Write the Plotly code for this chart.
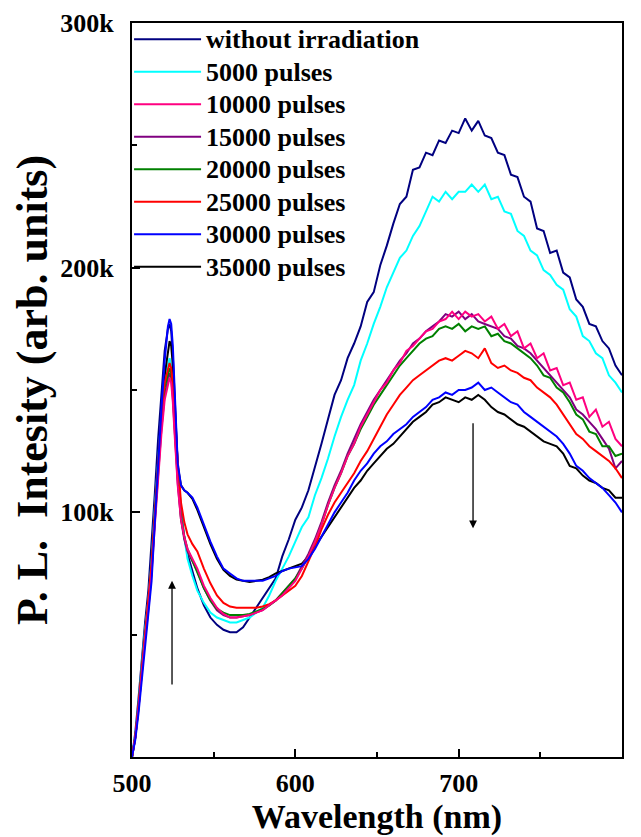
import plotly.graph_objects as go

wavelength = [500, 502, 504, 506, 508, 510, 512, 514, 516, 518, 520, 522, 523, 524, 525, 526, 527, 528,
              530, 532, 534, 537, 540, 544, 548, 552, 556, 560, 564, 568, 572, 576, 580, 584, 588, 592, 596, 600,
              604, 608, 612, 616, 620, 624, 628, 632, 636, 640, 644, 648, 652, 656, 660, 664, 668, 672, 676, 680,
              684, 688, 692, 696, 700, 704, 708, 712, 716, 720, 724, 728, 732, 736, 740, 744, 748, 752, 756, 760,
              764, 768, 772, 776, 780, 784, 788, 792, 796, 800]

# intensities in units of 1000 (k)
without_irr = [0, 10, 24, 40, 55, 68, 86, 108, 130, 150, 166, 175, 177, 174, 164, 149, 133, 119,
               101, 90, 83, 76, 69, 62, 57, 54, 52, 51, 51, 53, 57, 61, 65, 69, 73, 82, 89, 97,
               102, 109, 118, 128, 138, 148, 154, 163, 169, 176, 186, 190, 201, 209, 218, 226, 229, 240, 241, 247,
               246, 252, 251, 256, 255, 261, 256, 260, 254, 253, 247, 246, 238, 237, 229, 227, 216, 215, 206, 207,
               198, 196, 187, 184, 177, 176, 170, 167, 160, 156]
p5000 = [0, 9, 22, 38, 52, 64, 80, 102, 122, 140, 154, 161, 163, 160, 152, 140, 127, 116,
         99, 89, 81, 74, 68, 63, 59, 57, 56, 55, 55, 56, 57, 59, 61, 66, 72, 77, 82, 88,
         94, 98, 107, 114, 122, 131, 139, 146, 152, 162, 169, 177, 184, 192, 198, 204, 207, 213, 217, 223,
         229, 227, 231, 228, 231, 231, 234, 231, 234, 228, 229, 223, 222, 215, 213, 207, 205, 199, 197, 193,
         191, 183, 180, 172, 170, 165, 163, 156, 153, 149]
p10000 = [0, 8, 20, 35, 48, 60, 75, 95, 115, 132, 146, 153, 155, 153, 145, 133, 121, 111,
          97, 90, 85, 81, 77, 70, 65, 61, 58.5, 57, 57, 57.5, 58, 59, 60, 62, 64, 66, 69, 72,
          77, 82, 88, 95, 103, 110, 116, 123, 128, 135, 140, 145, 150, 153, 158, 161, 166, 168, 171, 174,
          175, 178, 179, 182, 179, 182, 180, 181, 178, 180, 175, 177, 172, 174, 167, 169, 163, 165, 158, 159,
          152, 153, 146, 147, 139, 142, 135, 137, 130, 127]
p15000 = [0, 8, 21, 36, 49, 61, 77, 97, 117, 134, 148, 155, 157, 155, 147, 135, 122, 112,
          97, 89, 84, 80, 76, 69, 64, 60, 58, 57, 57, 57.5, 58, 59, 60, 62, 64, 67, 70, 73,
          78, 83, 89, 96, 104, 111, 117, 124, 130, 136, 141, 146, 150, 154, 158, 162, 165, 169, 171, 174,
          176, 178, 181, 180, 182, 179, 181, 178, 177, 176, 175, 172, 171, 168, 167, 165, 162, 159, 156, 153,
          150, 147, 142, 140, 137, 134, 130, 126, 118, 121]
p20000 = [0, 8, 21, 36, 50, 62, 78, 99, 119, 137, 151, 157, 159, 157, 149, 137, 124, 114,
          98, 90, 85, 80, 75, 69, 64, 60.5, 59, 58, 58, 58, 58.5, 59.5, 60.5, 62, 64, 67, 70, 73,
          77, 82, 88, 95, 103, 110, 116, 123, 128, 134, 139, 144, 148, 152, 156, 160, 163, 166, 169, 171,
          172, 175, 176, 175, 177, 174, 176, 175, 176, 172, 173, 170, 169, 167, 165, 163, 160, 156, 155, 151,
          149, 145, 140, 138, 133, 132, 127, 127, 123, 124]
p25000 = [0, 8, 21, 36, 50, 63, 79, 100, 120, 139, 153, 159, 161, 159, 152, 141, 130, 121,
          104, 96, 91, 87, 84, 77, 71, 66, 63, 61.5, 61, 61, 61, 61, 61.5, 62.5, 64, 66, 68, 70,
          74, 80, 86, 93, 99, 104, 108, 112, 116, 121, 125, 130, 135, 140, 144, 148, 151, 154, 156, 158,
          160, 162, 163, 162, 164, 166, 165, 163, 167, 161, 159, 160, 158, 157, 155, 154, 151, 149, 147, 144,
          140, 136, 132, 130, 127, 125, 123, 121, 118, 114]
p30000 = [0, 7, 18, 32, 46, 58, 72, 96, 120, 142, 162, 176, 179, 177, 168, 152, 135, 120,
          111, 109, 108, 106, 102, 95, 88, 82, 77, 75, 73, 72, 72, 72, 72, 73, 74, 76, 77, 77.5,
          78, 81, 85, 90, 95, 100, 104, 108, 113, 117, 120, 124, 127, 129, 132, 134, 136, 139, 141, 143,
          146, 147, 149, 148, 150, 150, 151, 153, 150, 151, 149, 147, 145, 144, 141, 139, 137, 135, 133, 131,
          128, 124, 119, 117, 114, 112, 110, 107, 104, 100]
p35000 = [0, 8, 20, 35, 49, 61, 76, 98, 120, 140, 156, 167, 170, 168, 160, 146, 132, 119,
          111, 109, 108, 105.5, 101, 94, 87, 81, 76.5, 74, 72.5, 72, 71.5, 72, 72.5, 73.5, 75, 76, 77, 78,
          79, 82, 86, 90, 94, 98, 102, 106, 110, 113, 117, 120, 123, 126, 128, 131, 134, 137, 139, 141,
          144, 145, 147, 146, 145, 147, 146, 148, 146, 143, 141, 140, 138, 136, 135, 133, 131, 129, 128, 127,
          124, 119, 118, 115, 113, 112, 110, 109, 106, 106]

series_names = ["without irradiation", "5000 pulses", "10000 pulses", "15000 pulses",
                "20000 pulses", "25000 pulses", "30000 pulses", "35000 pulses"]
series_values = [without_irr, p5000, p10000, p15000, p20000, p25000, p30000, p35000]
series_colors = ["#000080", "#00FFFF", "#FF0080", "#800080", "#008000", "#FF0000", "#0000FF", "#000000"]
draw_order = [0, 1, 7, 3, 4, 5, 2, 6]

y_tickvals = [100000, 200000, 300000]
y_ticktext = ["100k", "200k", "300k"]
x_tickvals = [500, 600, 700, 800]

FONT = "Liberation Serif, Times New Roman, serif"

fig = go.Figure()
for i in draw_order:
    fig.add_trace(go.Scatter(
        x=wavelength, y=[v * 1000 for v in series_values[i]],
        mode="lines",
        name="<span style='font-size:26px'>" + series_names[i] + "</span>",
        legendrank=i + 1,
        line=dict(color=series_colors[i], width=2),
    ))

# arrows
fig.add_annotation(x=524.5, y=72000, ax=524.5, ay=29000, xref="x", yref="y", axref="x", ayref="y",
                   text="", showarrow=True, arrowhead=2, arrowsize=1.2, arrowwidth=1.3, arrowcolor="black",
                   standoff=0, startstandoff=0)
fig.add_annotation(x=708.8, y=93500, ax=708.8, ay=137000, xref="x", yref="y", axref="x", ayref="y",
                   text="", showarrow=True, arrowhead=2, arrowsize=1.2, arrowwidth=1.3, arrowcolor="black",
                   standoff=0, startstandoff=0)

fig.update_layout(
    template="none",
    width=633, height=829,
    margin=dict(l=124, r=19, t=15, b=80, autoexpand=False),
    paper_bgcolor="white", plot_bgcolor="white",
    font=dict(family=FONT, color="black", size=24, weight="bold"),
    showlegend=True,
    legend=dict(x=-0.006, y=1.0068, xanchor="left", yanchor="top", bgcolor="rgba(0,0,0,0)",
                font=dict(family=FONT, size=22.7, color="black", weight="bold"),
                itemwidth=67, tracegroupgap=0, traceorder="normal"),
)
fig.update_xaxes(
    range=[500, 800], tickmode="array", tickvals=x_tickvals, automargin=False,
    ticks="inside", ticklen=8, tickwidth=2, tickcolor="black", ticklabelstandoff=2,
    minor=dict(tickvals=[550, 650, 750], ticks="inside", ticklen=5, tickwidth=2, tickcolor="black"),
    showline=True, linecolor="black", linewidth=2, mirror=True, showgrid=False, zeroline=False,
    tickfont=dict(family=FONT, size=26, color="black", weight="bold"),
    title=dict(text="Wavelength (nm)", font=dict(family=FONT, size=34, color="black", weight="bold"), standoff=6),
)
fig.update_yaxes(
    range=[0, 300000], tickmode="array", tickvals=y_tickvals, ticktext=y_ticktext, automargin=False,
    ticks="inside", ticklen=8, tickwidth=2, tickcolor="black", ticklabelstandoff=11,
    minor=dict(tickvals=[50000, 150000, 250000], ticks="inside", ticklen=5, tickwidth=2, tickcolor="black"),
    showline=True, linecolor="black", linewidth=2, mirror=True, showgrid=False, zeroline=False,
    tickfont=dict(family=FONT, size=26, color="black", weight="bold"),
    title=dict(text="P. L.  Intesity (arb. units)", font=dict(family=FONT, size=44, color="black", weight="bold"), standoff=4),
)

fig.write_html("out.html")
